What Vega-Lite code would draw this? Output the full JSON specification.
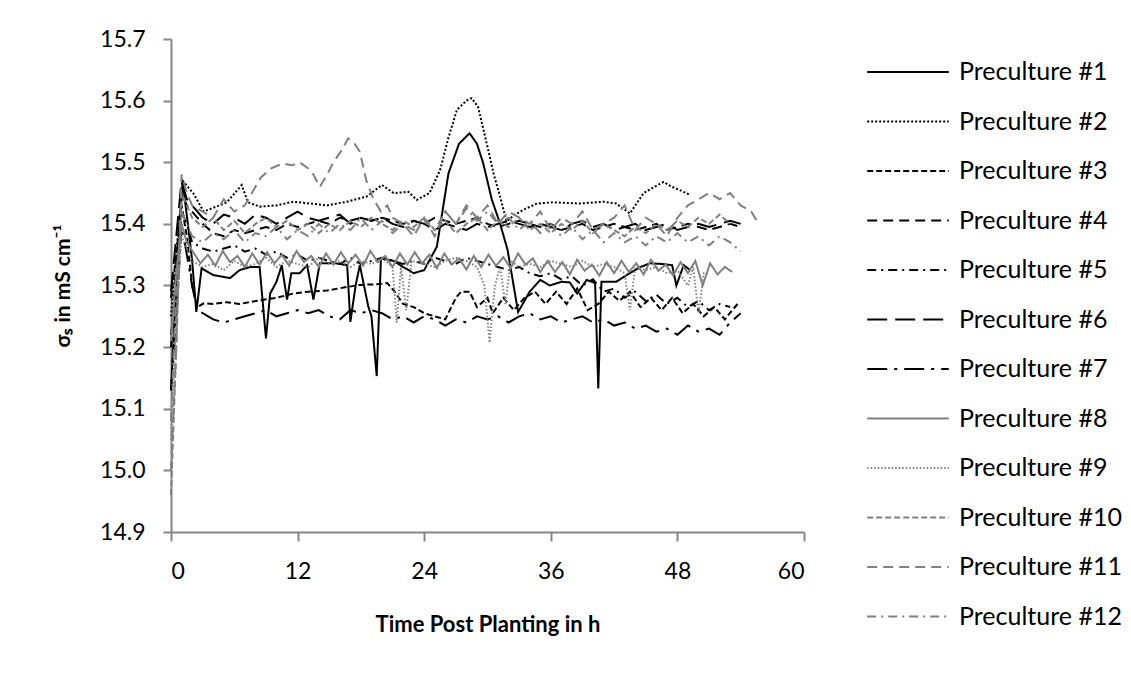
{
"$schema":"https://vega.github.io/schema/vega-lite/v6.json",
"width":633,"height":493,
"autosize":{"type":"none"},
"padding":{"left":171,"top":39,"right":327,"bottom":151},
"background":"white",
"config":{"view":{"stroke":null},"font":"Lato"},
"datasets":{
"d":[
{"s":1,"t":0,"v":15.13},{"s":1,"t":0.5,"v":15.3},{"s":1,"t":1.1,"v":15.468},{"s":1,"t":1.6,"v":15.4},{"s":1,"t":2,"v":15.341},{"s":1,"t":2.4,"v":15.257},{"s":1,"t":2.9,"v":15.328},{"s":1,"t":4,"v":15.317},{"s":1,"t":5.6,"v":15.312},{"s":1,"t":6.5,"v":15.325},{"s":1,"t":7.5,"v":15.33},{"s":1,"t":8.4,"v":15.33},{"s":1,"t":9,"v":15.214},{"s":1,"t":9.4,"v":15.287},{"s":1,"t":10,"v":15.306},{"s":1,"t":10.5,"v":15.333},{"s":1,"t":11,"v":15.277},{"s":1,"t":11.4,"v":15.32},{"s":1,"t":12.2,"v":15.32},{"s":1,"t":12.9,"v":15.333},{"s":1,"t":13.5,"v":15.277},{"s":1,"t":14.1,"v":15.336},{"s":1,"t":15.6,"v":15.336},{"s":1,"t":16.7,"v":15.333},{"s":1,"t":17,"v":15.241},{"s":1,"t":17.5,"v":15.3},{"s":1,"t":17.9,"v":15.333},{"s":1,"t":18.7,"v":15.266},{"s":1,"t":19,"v":15.25},{"s":1,"t":19.5,"v":15.153},{"s":1,"t":19.9,"v":15.344},{"s":1,"t":21.1,"v":15.34},{"s":1,"t":22,"v":15.33},{"s":1,"t":23,"v":15.32},{"s":1,"t":24,"v":15.325},{"s":1,"t":25.2,"v":15.363},{"s":1,"t":26.3,"v":15.482},{"s":1,"t":27.3,"v":15.53},{"s":1,"t":28.3,"v":15.547},{"s":1,"t":29,"v":15.53},{"s":1,"t":29.6,"v":15.498},{"s":1,"t":30.4,"v":15.44},{"s":1,"t":31.2,"v":15.4},{"s":1,"t":31.9,"v":15.358},{"s":1,"t":32.9,"v":15.257},{"s":1,"t":34,"v":15.29},{"s":1,"t":35,"v":15.309},{"s":1,"t":35.9,"v":15.3},{"s":1,"t":37,"v":15.306},{"s":1,"t":37.8,"v":15.305},{"s":1,"t":38.5,"v":15.287},{"s":1,"t":39.4,"v":15.309},{"s":1,"t":40.2,"v":15.304},{"s":1,"t":40.5,"v":15.133},{"s":1,"t":40.8,"v":15.306},{"s":1,"t":42.2,"v":15.306},{"s":1,"t":43.2,"v":15.317},{"s":1,"t":44.5,"v":15.33},{"s":1,"t":45.4,"v":15.336},{"s":1,"t":46.5,"v":15.335},{"s":1,"t":47.5,"v":15.333},{"s":1,"t":47.9,"v":15.3},{"s":1,"t":48.6,"v":15.333},{"s":1,"t":49.2,"v":15.325},
{"s":2,"t":0,"v":15.25},{"s":2,"t":0.5,"v":15.35},{"s":2,"t":1.1,"v":15.47},{"s":2,"t":2.1,"v":15.45},{"s":2,"t":3.1,"v":15.42},{"s":2,"t":4.6,"v":15.43},{"s":2,"t":5.3,"v":15.435},{"s":2,"t":6.7,"v":15.463},{"s":2,"t":7.3,"v":15.435},{"s":2,"t":8.4,"v":15.428},{"s":2,"t":10,"v":15.43},{"s":2,"t":11.6,"v":15.436},{"s":2,"t":13.2,"v":15.433},{"s":2,"t":14.8,"v":15.43},{"s":2,"t":16.7,"v":15.436},{"s":2,"t":18.5,"v":15.444},{"s":2,"t":20,"v":15.463},{"s":2,"t":21.1,"v":15.45},{"s":2,"t":22.5,"v":15.452},{"s":2,"t":23.3,"v":15.439},{"s":2,"t":24.5,"v":15.45},{"s":2,"t":25.5,"v":15.487},{"s":2,"t":26.3,"v":15.54},{"s":2,"t":27.1,"v":15.585},{"s":2,"t":28,"v":15.6},{"s":2,"t":28.5,"v":15.604},{"s":2,"t":29.1,"v":15.59},{"s":2,"t":29.8,"v":15.54},{"s":2,"t":30.6,"v":15.48},{"s":2,"t":31.2,"v":15.444},{"s":2,"t":31.8,"v":15.404},{"s":2,"t":32.6,"v":15.415},{"s":2,"t":33.4,"v":15.423},{"s":2,"t":34.7,"v":15.433},{"s":2,"t":36.2,"v":15.435},{"s":2,"t":37.5,"v":15.434},{"s":2,"t":38.8,"v":15.433},{"s":2,"t":41,"v":15.436},{"s":2,"t":42.2,"v":15.433},{"s":2,"t":43.5,"v":15.417},{"s":2,"t":44.8,"v":15.45},{"s":2,"t":45.8,"v":15.46},{"s":2,"t":46.7,"v":15.468},{"s":2,"t":47.5,"v":15.46},{"s":2,"t":48.2,"v":15.455},{"s":2,"t":49.2,"v":15.447},
{"s":3,"t":0,"v":15.28},{"s":3,"t":0.5,"v":15.35},{"s":3,"t":1,"v":15.43},{"s":3,"t":1.5,"v":15.38},{"s":3,"t":2,"v":15.3},{"s":3,"t":2.5,"v":15.265},{"s":3,"t":3.1,"v":15.271},{"s":3,"t":4,"v":15.27},{"s":3,"t":5.3,"v":15.273},{"s":3,"t":6.5,"v":15.27},{"s":3,"t":8.4,"v":15.276},{"s":3,"t":10,"v":15.28},{"s":3,"t":11.6,"v":15.287},{"s":3,"t":13,"v":15.29},{"s":3,"t":14.8,"v":15.292},{"s":3,"t":16.5,"v":15.297},{"s":3,"t":17.9,"v":15.301},{"s":3,"t":19.5,"v":15.302},{"s":3,"t":20.5,"v":15.304},{"s":3,"t":21.2,"v":15.29},{"s":3,"t":22,"v":15.27},{"s":3,"t":23,"v":15.265},{"s":3,"t":24,"v":15.255},{"s":3,"t":25,"v":15.25},{"s":3,"t":26,"v":15.245},{"s":3,"t":27,"v":15.28},{"s":3,"t":27.5,"v":15.29},{"s":3,"t":28.3,"v":15.29},{"s":3,"t":29,"v":15.265},{"s":3,"t":30,"v":15.28},{"s":3,"t":30.5,"v":15.255},{"s":3,"t":31.5,"v":15.28},{"s":3,"t":32.5,"v":15.26},{"s":3,"t":33.5,"v":15.28},{"s":3,"t":34.5,"v":15.29},{"s":3,"t":35.5,"v":15.27},{"s":3,"t":36.5,"v":15.29},{"s":3,"t":37.5,"v":15.27},{"s":3,"t":38.5,"v":15.295},{"s":3,"t":39.5,"v":15.26},{"s":3,"t":40.5,"v":15.27},{"s":3,"t":41.5,"v":15.29},{"s":3,"t":42.5,"v":15.275},{"s":3,"t":43.5,"v":15.29},{"s":3,"t":44.5,"v":15.265},{"s":3,"t":45.5,"v":15.28},{"s":3,"t":46.5,"v":15.26},{"s":3,"t":47.5,"v":15.28},{"s":3,"t":48.5,"v":15.255},{"s":3,"t":49.5,"v":15.27},{"s":3,"t":50.5,"v":15.25},{"s":3,"t":51.5,"v":15.265},{"s":3,"t":52.5,"v":15.245},{"s":3,"t":53.2,"v":15.26},{"s":3,"t":53.7,"v":15.27},
{"s":4,"t":0,"v":15.2},{"s":4,"t":0.5,"v":15.33},{"s":4,"t":1,"v":15.45},{"s":4,"t":1.5,"v":15.43},{"s":4,"t":2,"v":15.42},{"s":4,"t":3,"v":15.4},{"s":4,"t":4,"v":15.385},{"s":4,"t":5,"v":15.38},{"s":4,"t":6,"v":15.39},{"s":4,"t":7,"v":15.385},{"s":4,"t":8,"v":15.39},{"s":4,"t":9,"v":15.395},{"s":4,"t":10,"v":15.39},{"s":4,"t":11,"v":15.4},{"s":4,"t":12,"v":15.395},{"s":4,"t":13,"v":15.4},{"s":4,"t":14,"v":15.405},{"s":4,"t":15,"v":15.4},{"s":4,"t":16,"v":15.41},{"s":4,"t":17,"v":15.405},{"s":4,"t":18,"v":15.41},{"s":4,"t":19,"v":15.405},{"s":4,"t":20,"v":15.41},{"s":4,"t":21,"v":15.405},{"s":4,"t":22,"v":15.4},{"s":4,"t":23,"v":15.405},{"s":4,"t":24,"v":15.4},{"s":4,"t":25,"v":15.41},{"s":4,"t":26,"v":15.405},{"s":4,"t":27,"v":15.4},{"s":4,"t":28,"v":15.405},{"s":4,"t":29,"v":15.41},{"s":4,"t":30,"v":15.4},{"s":4,"t":31,"v":15.395},{"s":4,"t":32,"v":15.4},{"s":4,"t":33,"v":15.405},{"s":4,"t":34,"v":15.4},{"s":4,"t":35,"v":15.395},{"s":4,"t":36,"v":15.4},{"s":4,"t":37,"v":15.39},{"s":4,"t":38,"v":15.395},{"s":4,"t":39,"v":15.4},{"s":4,"t":40,"v":15.39},{"s":4,"t":41,"v":15.395},{"s":4,"t":42,"v":15.4},{"s":4,"t":43,"v":15.395},{"s":4,"t":44,"v":15.39},{"s":4,"t":45,"v":15.395},{"s":4,"t":46,"v":15.4},{"s":4,"t":47,"v":15.39},{"s":4,"t":48,"v":15.395},{"s":4,"t":49,"v":15.4},{"s":4,"t":50,"v":15.395},{"s":4,"t":51,"v":15.39},{"s":4,"t":52,"v":15.395},{"s":4,"t":53,"v":15.4},{"s":4,"t":54,"v":15.395},
{"s":5,"t":0,"v":15.22},{"s":5,"t":0.5,"v":15.3},{"s":5,"t":1,"v":15.42},{"s":5,"t":1.5,"v":15.4},{"s":5,"t":2,"v":15.37},{"s":5,"t":3,"v":15.36},{"s":5,"t":4,"v":15.355},{"s":5,"t":5,"v":15.36},{"s":5,"t":6,"v":15.365},{"s":5,"t":7,"v":15.355},{"s":5,"t":8,"v":15.36},{"s":5,"t":9,"v":15.35},{"s":5,"t":10,"v":15.355},{"s":5,"t":11,"v":15.345},{"s":5,"t":12,"v":15.35},{"s":5,"t":13,"v":15.34},{"s":5,"t":14,"v":15.345},{"s":5,"t":15,"v":15.34},{"s":5,"t":16,"v":15.335},{"s":5,"t":17,"v":15.345},{"s":5,"t":18,"v":15.335},{"s":5,"t":19,"v":15.34},{"s":5,"t":20,"v":15.345},{"s":5,"t":21,"v":15.34},{"s":5,"t":22,"v":15.335},{"s":5,"t":23,"v":15.34},{"s":5,"t":24,"v":15.335},{"s":5,"t":25,"v":15.345},{"s":5,"t":26,"v":15.34},{"s":5,"t":27,"v":15.335},{"s":5,"t":28,"v":15.345},{"s":5,"t":29,"v":15.34},{"s":5,"t":30,"v":15.335},{"s":5,"t":31,"v":15.33},{"s":5,"t":32,"v":15.325},{"s":5,"t":33,"v":15.33},{"s":5,"t":34,"v":15.32},{"s":5,"t":35,"v":15.315},{"s":5,"t":36,"v":15.32},{"s":5,"t":37,"v":15.31},{"s":5,"t":38,"v":15.315},{"s":5,"t":39,"v":15.3},{"s":5,"t":40,"v":15.31},{"s":5,"t":41,"v":15.29},{"s":5,"t":42,"v":15.295},{"s":5,"t":43,"v":15.28},{"s":5,"t":44,"v":15.29},{"s":5,"t":45,"v":15.275},{"s":5,"t":46,"v":15.285},{"s":5,"t":47,"v":15.27},{"s":5,"t":48,"v":15.28},{"s":5,"t":49,"v":15.265},{"s":5,"t":50,"v":15.275},{"s":5,"t":51,"v":15.26},{"s":5,"t":52,"v":15.27},{"s":5,"t":53,"v":15.265},
{"s":6,"t":0,"v":15.29},{"s":6,"t":0.5,"v":15.38},{"s":6,"t":1,"v":15.47},{"s":6,"t":1.5,"v":15.44},{"s":6,"t":2,"v":15.43},{"s":6,"t":3,"v":15.41},{"s":6,"t":4,"v":15.4},{"s":6,"t":5,"v":15.415},{"s":6,"t":6,"v":15.41},{"s":6,"t":7,"v":15.4},{"s":6,"t":8,"v":15.415},{"s":6,"t":9,"v":15.41},{"s":6,"t":10,"v":15.4},{"s":6,"t":11,"v":15.41},{"s":6,"t":12,"v":15.42},{"s":6,"t":13,"v":15.41},{"s":6,"t":14,"v":15.405},{"s":6,"t":15,"v":15.41},{"s":6,"t":16,"v":15.415},{"s":6,"t":17,"v":15.4},{"s":6,"t":18,"v":15.41},{"s":6,"t":19,"v":15.405},{"s":6,"t":20,"v":15.41},{"s":6,"t":21,"v":15.4},{"s":6,"t":22,"v":15.395},{"s":6,"t":23,"v":15.405},{"s":6,"t":24,"v":15.4},{"s":6,"t":25,"v":15.39},{"s":6,"t":26,"v":15.4},{"s":6,"t":27,"v":15.395},{"s":6,"t":28,"v":15.39},{"s":6,"t":29,"v":15.4},{"s":6,"t":30,"v":15.395},{"s":6,"t":31,"v":15.4},{"s":6,"t":32,"v":15.405},{"s":6,"t":33,"v":15.4},{"s":6,"t":34,"v":15.395},{"s":6,"t":35,"v":15.4},{"s":6,"t":36,"v":15.395},{"s":6,"t":37,"v":15.39},{"s":6,"t":38,"v":15.4},{"s":6,"t":39,"v":15.405},{"s":6,"t":40,"v":15.395},{"s":6,"t":41,"v":15.4},{"s":6,"t":42,"v":15.39},{"s":6,"t":43,"v":15.395},{"s":6,"t":44,"v":15.4},{"s":6,"t":45,"v":15.39},{"s":6,"t":46,"v":15.395},{"s":6,"t":47,"v":15.4},{"s":6,"t":48,"v":15.39},{"s":6,"t":49,"v":15.395},{"s":6,"t":50,"v":15.4},{"s":6,"t":51,"v":15.395},{"s":6,"t":52,"v":15.4},{"s":6,"t":53,"v":15.405},{"s":6,"t":54,"v":15.4},
{"s":7,"t":0,"v":15.13},{"s":7,"t":0.5,"v":15.25},{"s":7,"t":1,"v":15.4},{"s":7,"t":1.5,"v":15.35},{"s":7,"t":2,"v":15.3},{"s":7,"t":2.5,"v":15.26},{"s":7,"t":3,"v":15.255},{"s":7,"t":4,"v":15.245},{"s":7,"t":5,"v":15.24},{"s":7,"t":6,"v":15.245},{"s":7,"t":7,"v":15.25},{"s":7,"t":8,"v":15.255},{"s":7,"t":9,"v":15.26},{"s":7,"t":10,"v":15.25},{"s":7,"t":11,"v":15.255},{"s":7,"t":12,"v":15.26},{"s":7,"t":13,"v":15.255},{"s":7,"t":14,"v":15.26},{"s":7,"t":15,"v":15.25},{"s":7,"t":16,"v":15.245},{"s":7,"t":17,"v":15.26},{"s":7,"t":18,"v":15.255},{"s":7,"t":19,"v":15.26},{"s":7,"t":20,"v":15.255},{"s":7,"t":21,"v":15.245},{"s":7,"t":22,"v":15.25},{"s":7,"t":23,"v":15.24},{"s":7,"t":24,"v":15.25},{"s":7,"t":25,"v":15.245},{"s":7,"t":26,"v":15.235},{"s":7,"t":27,"v":15.245},{"s":7,"t":28,"v":15.24},{"s":7,"t":29,"v":15.25},{"s":7,"t":30,"v":15.245},{"s":7,"t":31,"v":15.25},{"s":7,"t":32,"v":15.24},{"s":7,"t":33,"v":15.25},{"s":7,"t":34,"v":15.255},{"s":7,"t":35,"v":15.245},{"s":7,"t":36,"v":15.25},{"s":7,"t":37,"v":15.24},{"s":7,"t":38,"v":15.245},{"s":7,"t":39,"v":15.25},{"s":7,"t":40,"v":15.24},{"s":7,"t":41,"v":15.245},{"s":7,"t":42,"v":15.235},{"s":7,"t":43,"v":15.24},{"s":7,"t":44,"v":15.23},{"s":7,"t":45,"v":15.235},{"s":7,"t":46,"v":15.225},{"s":7,"t":47,"v":15.23},{"s":7,"t":48,"v":15.22},{"s":7,"t":49,"v":15.235},{"s":7,"t":50,"v":15.225},{"s":7,"t":51,"v":15.23},{"s":7,"t":52,"v":15.22},{"s":7,"t":53,"v":15.24},{"s":7,"t":54,"v":15.255},
{"s":8,"t":0,"v":15.21},{"s":8,"t":0.5,"v":15.32},{"s":8,"t":1,"v":15.4},{"s":8,"t":1.5,"v":15.37},{"s":8,"t":2.1,"v":15.354},{"s":8,"t":2.8,"v":15.336},{"s":8,"t":3.5,"v":15.35},{"s":8,"t":4.2,"v":15.332},{"s":8,"t":4.9,"v":15.356},{"s":8,"t":5.6,"v":15.338},{"s":8,"t":6.3,"v":15.348},{"s":8,"t":7,"v":15.33},{"s":8,"t":7.7,"v":15.352},{"s":8,"t":8.4,"v":15.334},{"s":8,"t":9.1,"v":15.354},{"s":8,"t":9.8,"v":15.336},{"s":8,"t":10.5,"v":15.35},{"s":8,"t":11.2,"v":15.332},{"s":8,"t":11.9,"v":15.356},{"s":8,"t":12.6,"v":15.338},{"s":8,"t":13.3,"v":15.348},{"s":8,"t":14,"v":15.33},{"s":8,"t":14.7,"v":15.352},{"s":8,"t":15.4,"v":15.334},{"s":8,"t":16.1,"v":15.354},{"s":8,"t":16.8,"v":15.336},{"s":8,"t":17.5,"v":15.35},{"s":8,"t":18.2,"v":15.332},{"s":8,"t":18.9,"v":15.356},{"s":8,"t":19.6,"v":15.338},{"s":8,"t":20.3,"v":15.348},{"s":8,"t":21,"v":15.33},{"s":8,"t":21.7,"v":15.352},{"s":8,"t":22.4,"v":15.334},{"s":8,"t":23.1,"v":15.354},{"s":8,"t":23.8,"v":15.336},{"s":8,"t":24.5,"v":15.35},{"s":8,"t":25.2,"v":15.328},{"s":8,"t":25.9,"v":15.352},{"s":8,"t":26.6,"v":15.334},{"s":8,"t":27.3,"v":15.344},{"s":8,"t":28,"v":15.326},{"s":8,"t":28.7,"v":15.348},{"s":8,"t":29.4,"v":15.33},{"s":8,"t":30.1,"v":15.35},{"s":8,"t":30.8,"v":15.332},{"s":8,"t":31.5,"v":15.346},{"s":8,"t":32.2,"v":15.328},{"s":8,"t":32.9,"v":15.352},{"s":8,"t":33.6,"v":15.334},{"s":8,"t":34.3,"v":15.344},{"s":8,"t":35,"v":15.322},{"s":8,"t":35.7,"v":15.34},{"s":8,"t":36.4,"v":15.322},{"s":8,"t":37.1,"v":15.338},{"s":8,"t":37.8,"v":15.318},{"s":8,"t":38.5,"v":15.342},{"s":8,"t":39.2,"v":15.324},{"s":8,"t":39.9,"v":15.334},{"s":8,"t":40.6,"v":15.316},{"s":8,"t":41.3,"v":15.338},{"s":8,"t":42,"v":15.32},{"s":8,"t":42.7,"v":15.34},{"s":8,"t":43.4,"v":15.322},{"s":8,"t":44.1,"v":15.336},{"s":8,"t":44.8,"v":15.318},{"s":8,"t":45.5,"v":15.342},{"s":8,"t":46.2,"v":15.324},{"s":8,"t":46.9,"v":15.334},{"s":8,"t":47.6,"v":15.316},{"s":8,"t":48.3,"v":15.338},{"s":8,"t":49,"v":15.32},{"s":8,"t":49.7,"v":15.34},{"s":8,"t":50.4,"v":15.3},{"s":8,"t":51.1,"v":15.336},{"s":8,"t":51.8,"v":15.318},{"s":8,"t":52.5,"v":15.33},{"s":8,"t":53.2,"v":15.322},
{"s":9,"t":0,"v":15.05},{"s":9,"t":0.5,"v":15.25},{"s":9,"t":1,"v":15.38},{"s":9,"t":1.5,"v":15.36},{"s":9,"t":2,"v":15.34},{"s":9,"t":3,"v":15.33},{"s":9,"t":4,"v":15.335},{"s":9,"t":5,"v":15.325},{"s":9,"t":6,"v":15.34},{"s":9,"t":7,"v":15.33},{"s":9,"t":8,"v":15.335},{"s":9,"t":9,"v":15.345},{"s":9,"t":10,"v":15.33},{"s":9,"t":11,"v":15.34},{"s":9,"t":12,"v":15.335},{"s":9,"t":13,"v":15.33},{"s":9,"t":14,"v":15.345},{"s":9,"t":15,"v":15.335},{"s":9,"t":16,"v":15.34},{"s":9,"t":17,"v":15.33},{"s":9,"t":18,"v":15.34},{"s":9,"t":19,"v":15.335},{"s":9,"t":20,"v":15.345},{"s":9,"t":21,"v":15.33},{"s":9,"t":21.4,"v":15.24},{"s":9,"t":21.8,"v":15.33},{"s":9,"t":22.3,"v":15.26},{"s":9,"t":22.8,"v":15.34},{"s":9,"t":24,"v":15.335},{"s":9,"t":25,"v":15.33},{"s":9,"t":26,"v":15.34},{"s":9,"t":27,"v":15.345},{"s":9,"t":28,"v":15.34},{"s":9,"t":29,"v":15.33},{"s":9,"t":29.7,"v":15.3},{"s":9,"t":30.2,"v":15.207},{"s":9,"t":30.7,"v":15.3},{"s":9,"t":31.2,"v":15.33},{"s":9,"t":31.7,"v":15.27},{"s":9,"t":32.2,"v":15.34},{"s":9,"t":33,"v":15.33},{"s":9,"t":34,"v":15.335},{"s":9,"t":35,"v":15.33},{"s":9,"t":36,"v":15.34},{"s":9,"t":37,"v":15.335},{"s":9,"t":38,"v":15.33},{"s":9,"t":39,"v":15.34},{"s":9,"t":40,"v":15.33},{"s":9,"t":41,"v":15.335},{"s":9,"t":42,"v":15.33},{"s":9,"t":43,"v":15.32},{"s":9,"t":43.5,"v":15.26},{"s":9,"t":44,"v":15.33},{"s":9,"t":45,"v":15.325},{"s":9,"t":46,"v":15.33},{"s":9,"t":47,"v":15.32},{"s":9,"t":48,"v":15.325},{"s":9,"t":49,"v":15.3},{"s":9,"t":49.5,"v":15.33},{"s":9,"t":50,"v":15.255},{"s":9,"t":50.5,"v":15.32},{"s":9,"t":51,"v":15.32},
{"s":10,"t":0,"v":14.96},{"s":10,"t":0.5,"v":15.2},{"s":10,"t":1,"v":15.45},{"s":10,"t":1.5,"v":15.43},{"s":10,"t":2,"v":15.41},{"s":10,"t":3,"v":15.395},{"s":10,"t":4,"v":15.41},{"s":10,"t":5,"v":15.39},{"s":10,"t":6,"v":15.405},{"s":10,"t":7,"v":15.385},{"s":10,"t":8,"v":15.4},{"s":10,"t":9,"v":15.41},{"s":10,"t":10,"v":15.395},{"s":10,"t":11,"v":15.405},{"s":10,"t":12,"v":15.39},{"s":10,"t":13,"v":15.4},{"s":10,"t":14,"v":15.385},{"s":10,"t":15,"v":15.4},{"s":10,"t":16,"v":15.39},{"s":10,"t":17,"v":15.405},{"s":10,"t":18,"v":15.395},{"s":10,"t":19,"v":15.41},{"s":10,"t":20,"v":15.4},{"s":10,"t":21,"v":15.39},{"s":10,"t":22,"v":15.405},{"s":10,"t":23,"v":15.395},{"s":10,"t":24,"v":15.41},{"s":10,"t":25,"v":15.39},{"s":10,"t":26,"v":15.405},{"s":10,"t":27,"v":15.385},{"s":10,"t":28,"v":15.4},{"s":10,"t":29,"v":15.41},{"s":10,"t":30,"v":15.39},{"s":10,"t":31,"v":15.405},{"s":10,"t":32,"v":15.395},{"s":10,"t":33,"v":15.41},{"s":10,"t":34,"v":15.39},{"s":10,"t":35,"v":15.4},{"s":10,"t":36,"v":15.385},{"s":10,"t":37,"v":15.4},{"s":10,"t":38,"v":15.39},{"s":10,"t":39,"v":15.405},{"s":10,"t":40,"v":15.385},{"s":10,"t":41,"v":15.4},{"s":10,"t":42,"v":15.39},{"s":10,"t":43,"v":15.38},{"s":10,"t":44,"v":15.395},{"s":10,"t":45,"v":15.385},{"s":10,"t":46,"v":15.4},{"s":10,"t":47,"v":15.39},{"s":10,"t":48,"v":15.405},{"s":10,"t":49,"v":15.395},{"s":10,"t":50,"v":15.41},{"s":10,"t":51,"v":15.4},{"s":10,"t":52,"v":15.415},{"s":10,"t":53,"v":15.4},
{"s":11,"t":0,"v":15},{"s":11,"t":0.5,"v":15.2},{"s":11,"t":1,"v":15.48},{"s":11,"t":1.5,"v":15.45},{"s":11,"t":2,"v":15.43},{"s":11,"t":3,"v":15.42},{"s":11,"t":4,"v":15.41},{"s":11,"t":5,"v":15.44},{"s":11,"t":6,"v":15.42},{"s":11,"t":7,"v":15.43},{"s":11,"t":8,"v":15.46},{"s":11,"t":8.5,"v":15.475},{"s":11,"t":9.5,"v":15.49},{"s":11,"t":10.6,"v":15.498},{"s":11,"t":11.5,"v":15.495},{"s":11,"t":12.2,"v":15.5},{"s":11,"t":13,"v":15.49},{"s":11,"t":13.5,"v":15.48},{"s":11,"t":14.1,"v":15.46},{"s":11,"t":14.8,"v":15.48},{"s":11,"t":15.4,"v":15.5},{"s":11,"t":16.2,"v":15.52},{"s":11,"t":16.8,"v":15.539},{"s":11,"t":17.4,"v":15.53},{"s":11,"t":17.9,"v":15.517},{"s":11,"t":18.5,"v":15.471},{"s":11,"t":19.2,"v":15.44},{"s":11,"t":19.9,"v":15.42},{"s":11,"t":20.5,"v":15.43},{"s":11,"t":21,"v":15.41},{"s":11,"t":22,"v":15.4},{"s":11,"t":23,"v":15.38},{"s":11,"t":24,"v":15.41},{"s":11,"t":25,"v":15.38},{"s":11,"t":26,"v":15.42},{"s":11,"t":27,"v":15.4},{"s":11,"t":28,"v":15.43},{"s":11,"t":29,"v":15.41},{"s":11,"t":30,"v":15.43},{"s":11,"t":31,"v":15.4},{"s":11,"t":32,"v":15.42},{"s":11,"t":33,"v":15.41},{"s":11,"t":34,"v":15.4},{"s":11,"t":35,"v":15.42},{"s":11,"t":36,"v":15.39},{"s":11,"t":37,"v":15.41},{"s":11,"t":38,"v":15.4},{"s":11,"t":39,"v":15.42},{"s":11,"t":40,"v":15.39},{"s":11,"t":41,"v":15.4},{"s":11,"t":42,"v":15.41},{"s":11,"t":43,"v":15.43},{"s":11,"t":44,"v":15.39},{"s":11,"t":45,"v":15.41},{"s":11,"t":46,"v":15.4},{"s":11,"t":47,"v":15.38},{"s":11,"t":48,"v":15.41},{"s":11,"t":49,"v":15.43},{"s":11,"t":50,"v":15.44},{"s":11,"t":51,"v":15.45},{"s":11,"t":52,"v":15.44},{"s":11,"t":53,"v":15.45},{"s":11,"t":54,"v":15.43},{"s":11,"t":55,"v":15.42},{"s":11,"t":55.7,"v":15.4},
{"s":12,"t":0,"v":15.08},{"s":12,"t":0.5,"v":15.3},{"s":12,"t":1,"v":15.42},{"s":12,"t":1.5,"v":15.4},{"s":12,"t":2,"v":15.38},{"s":12,"t":3,"v":15.37},{"s":12,"t":4,"v":15.385},{"s":12,"t":5,"v":15.375},{"s":12,"t":6,"v":15.39},{"s":12,"t":7,"v":15.37},{"s":12,"t":8,"v":15.385},{"s":12,"t":9,"v":15.38},{"s":12,"t":10,"v":15.395},{"s":12,"t":11,"v":15.375},{"s":12,"t":12,"v":15.39},{"s":12,"t":13,"v":15.38},{"s":12,"t":14,"v":15.4},{"s":12,"t":15,"v":15.385},{"s":12,"t":16,"v":15.4},{"s":12,"t":17,"v":15.39},{"s":12,"t":18,"v":15.41},{"s":12,"t":19,"v":15.39},{"s":12,"t":20,"v":15.405},{"s":12,"t":21,"v":15.385},{"s":12,"t":22,"v":15.4},{"s":12,"t":23,"v":15.39},{"s":12,"t":24,"v":15.405},{"s":12,"t":25,"v":15.39},{"s":12,"t":26,"v":15.42},{"s":12,"t":27,"v":15.4},{"s":12,"t":28,"v":15.425},{"s":12,"t":29,"v":15.405},{"s":12,"t":30,"v":15.42},{"s":12,"t":31,"v":15.4},{"s":12,"t":32,"v":15.41},{"s":12,"t":33,"v":15.39},{"s":12,"t":34,"v":15.405},{"s":12,"t":35,"v":15.385},{"s":12,"t":36,"v":15.4},{"s":12,"t":37,"v":15.38},{"s":12,"t":38,"v":15.395},{"s":12,"t":39,"v":15.375},{"s":12,"t":40,"v":15.39},{"s":12,"t":41,"v":15.37},{"s":12,"t":42,"v":15.385},{"s":12,"t":43,"v":15.37},{"s":12,"t":44,"v":15.38},{"s":12,"t":45,"v":15.365},{"s":12,"t":46,"v":15.38},{"s":12,"t":47,"v":15.37},{"s":12,"t":48,"v":15.385},{"s":12,"t":49,"v":15.37},{"s":12,"t":50,"v":15.38},{"s":12,"t":51,"v":15.365},{"s":12,"t":52,"v":15.38},{"s":12,"t":53,"v":15.37},{"s":12,"t":54,"v":15.355}
]},
"data":{"name":"d"},
"mark":{"type":"line","strokeWidth":2},
"encoding":{
"x":{"field":"t","type":"quantitative","scale":{"domain":[0,60],"nice":false},
 "axis":{"values":[0,12,24,36,48,60],"title":"Time Post Planting in h","grid":false,"domainColor":"#868686","domainWidth":2,"tickColor":"#868686","tickWidth":2,"tickSize":9,"labelFontSize":23,"labelColor":"black","labelPadding":19,"titleFontSize":22,"titleFontWeight":"bold","titleColor":"black","titleBaseline":"middle","titleY":92}},
"y":{"field":"v","type":"quantitative","scale":{"domain":[14.9,15.7],"nice":false,"zero":false},
 "axis":{"values":[14.9,15.0,15.1,15.2,15.3,15.4,15.5,15.6,15.7],"format":".1f","title":"σₛ in mS cm⁻¹","grid":false,"domainColor":"#868686","domainWidth":2,"tickColor":"#868686","tickWidth":2,"tickSize":8,"labelFontSize":23,"labelColor":"black","labelPadding":18,"titleFontSize":21,"titleFontWeight":"bold","titleColor":"black","titleBaseline":"middle","titleX":-108}},
"color":{"field":"s","type":"nominal","scale":{"domain":[1,2,3,4,5,6,7,8,9,10,11,12],"range":["#000000","#000000","#000000","#000000","#000000","#000000","#000000","#808080","#808080","#808080","#808080","#808080"]},
 "legend":{"title":null,"orient":"none","legendX":724,"legendY":20,"padding":0,"symbolType":"M-3.4,0H3.4","symbolSize":576,"symbolStrokeWidth":2,"labelFontSize":25,"labelColor":"black","labelOffset":38,"labelLimit":400,"rowPadding":23.5,"labelExpr":"'Preculture #' + datum.label"}},
"strokeDash":{"field":"s","type":"nominal","scale":{"domain":[1,2,3,4,5,6,7,8,9,10,11,12],"range":[[1,0],[2,2],[6,3],[10,6],[9,5,2,5],[20,8],[20,7,3,7],[1,0],[1.5,2],[6,3],[10,6],[9,5,2,5]]},
 "legend":{"title":null,"orient":"none","legendX":724,"legendY":20,"padding":0,"symbolType":"M-3.4,0H3.4","symbolSize":576,"symbolStrokeWidth":2,"labelFontSize":25,"labelColor":"black","labelOffset":38,"labelLimit":400,"rowPadding":23.5,"labelExpr":"'Preculture #' + datum.label"}}
}
}
